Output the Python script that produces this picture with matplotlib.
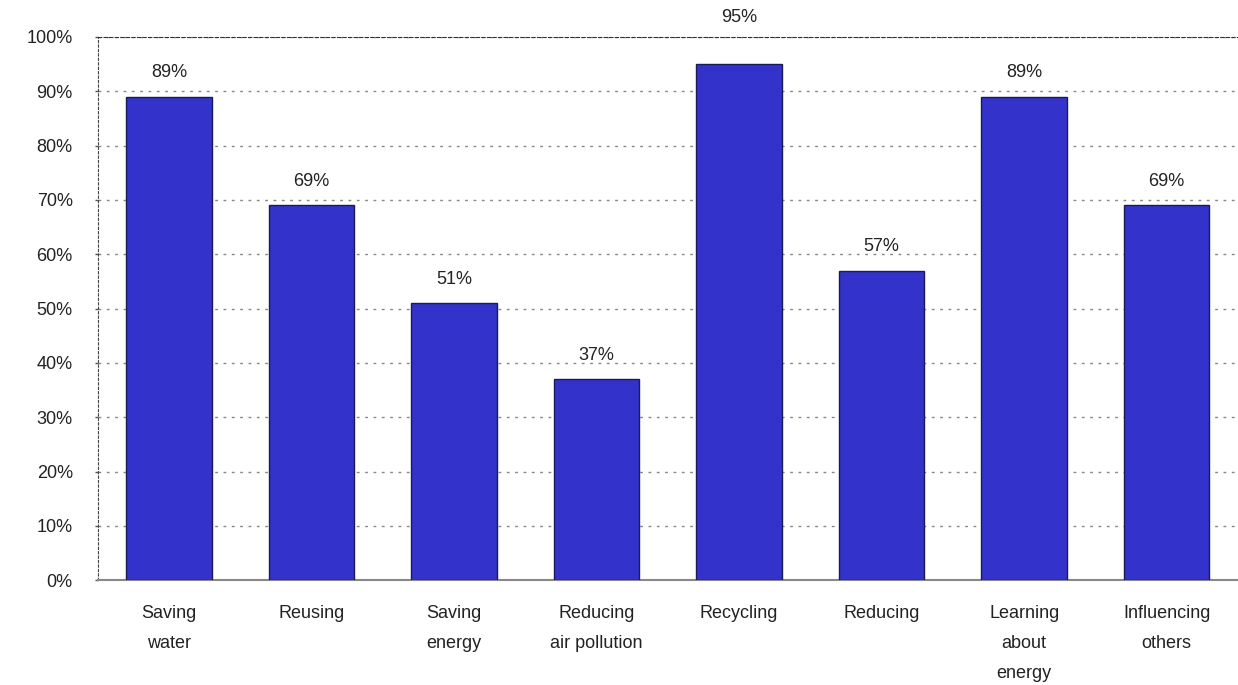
import matplotlib.pyplot as plt
from matplotlib.ticker import FuncFormatter

# Data
categories = ['Saving\nwater', 'Reusing', 'Saving\nenergy', 'Reducing\nair pollution',
              'Recycling', 'Reducing', 'Learning\nabout\nenergy', 'Influencing\nothers']
percentages = [89, 69, 51, 37, 95, 57, 89, 69]
y_ticks = [0, 10, 20, 30, 40, 50, 60, 70, 80, 90, 100]

plt.rcParams['font.family'] = ['Liberation Sans', 'DejaVu Sans']

fig = plt.figure(figsize=(12.38, 6.85), dpi=100)
ax = fig.add_axes([0.079, 0.153, 0.921, 0.793])

x = range(len(categories))
bars = ax.bar(x, percentages, width=0.6, color='#3333CC', edgecolor='#1a1a55',
              linewidth=1.0, zorder=3)

# value labels above each bar; a label that would hit the top border goes above it
for xi, v in zip(x, percentages):
    y_lab = v + 4.4
    if y_lab > 97:
        y_lab = 103.5
    ax.text(xi, y_lab, f'{v}%', ha='center', va='center', fontsize=13,
            color='#222222', clip_on=False)

ax.set_xlim(-0.5, len(categories) - 0.5)
ax.set_ylim(0, 100)
ax.set_yticks(y_ticks)
ax.yaxis.set_major_formatter(FuncFormatter(lambda v, p: f'{int(v)}%'))
ax.set_xticks(list(x))
ax.set_xticklabels(categories, fontsize=13, linespacing=2.0, color='#222222')
ax.tick_params(axis='x', length=0, pad=18)
ax.tick_params(axis='y', length=2, width=1, color='#555555', labelsize=13,
               labelcolor='#222222', pad=16)

ax.grid(axis='y', linestyle=(0, (2, 4)), color='#888888', linewidth=1, zorder=0)

ax.spines['right'].set_visible(False)
ax.spines['top'].set_linestyle((0, (3, 2)))
ax.spines['top'].set_color('#333333')
ax.spines['left'].set_linestyle((0, (2, 2)))
ax.spines['left'].set_color('#444444')
ax.spines['bottom'].set_color('#888888')
ax.spines['bottom'].set_linewidth(1.5)

fig.savefig('out.png', dpi=100)
plt.close(fig)
